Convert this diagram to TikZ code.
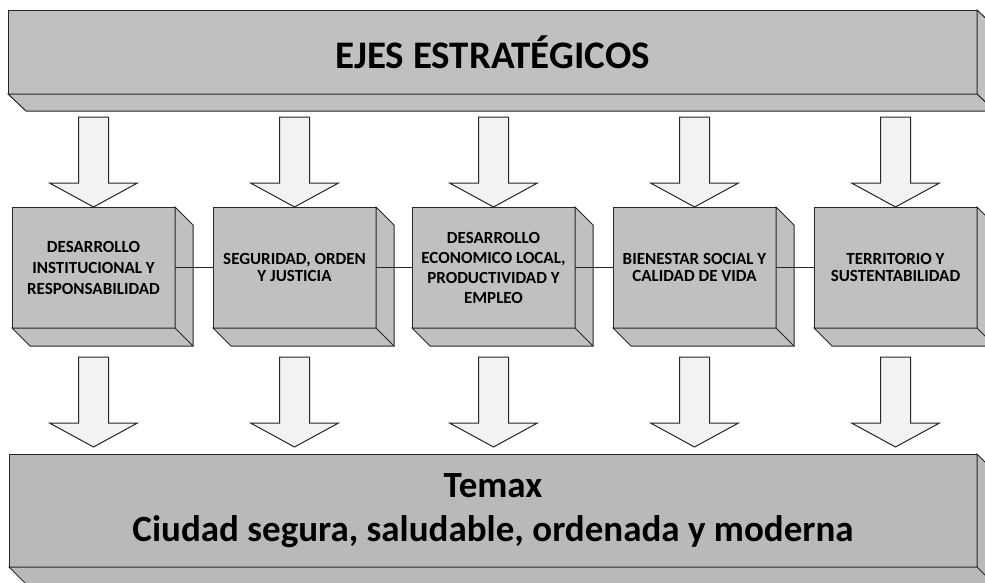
\documentclass[tikz,border=0pt]{standalone}
\usepackage{fontspec}
\setmainfont{Carlito}
\usetikzlibrary{calc}
\definecolor{boxgray}{HTML}{C0C0C0}
\definecolor{botgray}{HTML}{B9B9B9}
\definecolor{arrfill}{HTML}{F2F2F2}
\definecolor{linecol}{HTML}{262626}
\newcommand\depthbox[4]{%
  \filldraw[depthface, fill=#4] (#1.north east) -- ([shift={(#2,#3)}]#1.north east) -- ([shift={(#2,#3)}]#1.south east) -- ([shift={(#2,#3)}]#1.south west) -- (#1.south west) -- (#1.south east) -- cycle;
  \draw[depthface] (#1.south east) -- ([shift={(#2,#3)}]#1.south east);}
\newcommand\blockarr[1]{%
  \filldraw[blockarrow] (#1) -- ++(-44,-24) -- ++(29,0) -- ++(0,-66) -- ++(30,0) -- ++(0,66) -- ++(29,0) -- cycle;}
\begin{document}
\begin{tikzpicture}[x=1pt,y=-1pt,
  face/.style={draw=linecol, line width=1pt, fill=boxgray, inner sep=0pt, outer sep=0pt, align=center, anchor=north west, text=black},
  depthface/.style={draw=linecol, line width=1pt, line join=miter},
  blockarrow/.style={draw=linecol, line width=1pt, fill=arrfill, line join=miter},
  edge/.style={draw=linecol, line width=1pt},
  midbox/.style={face, minimum width=163pt, minimum height=121pt},
  midfont/.style={font=\fontsize{17}{#1}\selectfont\bfseries}]
\useasboundingbox (0,0) rectangle (985,582);
\clip (0,0) rectangle (985,582);
\fill[white] (0,0) rectangle (985,582);
% top box
\node[face, minimum width=969pt, minimum height=84pt, font=\fontsize{39}{42}\selectfont\bfseries] (top) at (8,10) {EJES ESTRATÉGICOS};
\depthbox{top}{18}{17}{boxgray}
% middle boxes
\node[midbox, midfont=21] (b1) at (12,207) {DESARROLLO\\INSTITUCIONAL Y\\RESPONSABILIDAD};
\node[midbox, midfont=17] (b2) at (213,207) {SEGURIDAD, ORDEN\\Y JUSTICIA};
\node[midbox, midfont=20] (b3) at (412,207) {DESARROLLO\\ECONOMICO LOCAL,\\PRODUCTIVIDAD Y\\EMPLEO};
\node[midbox, midfont=17] (b4) at (613,207) {BIENESTAR SOCIAL Y\\CALIDAD DE VIDA};
\node[midbox, midfont=17] (b5) at (814,207) {TERRITORIO Y\\SUSTENTABILIDAD};
\foreach \b in {b1,b2,b3,b4,b5}{\depthbox{\b}{18}{18}{boxgray}}
% connectors
\draw[edge] (b1.east) -- (b2.west);
\draw[edge] (b2.east) -- (b3.west);
\draw[edge] (b3.east) -- (b4.west);
\draw[edge] (b4.east) -- (b5.west);
% bottom box
\node[face, fill=botgray, minimum width=968pt, minimum height=113pt, font=\fontsize{37}{44}\selectfont\bfseries] (bot) at (9,454) {Temax\\Ciudad segura, saludable, ordenada y moderna};
\depthbox{bot}{18}{18}{botgray}
% arrows
\foreach \b in {b1,b2,b3,b4,b5}{
  \blockarr{\b.north}
  \coordinate (\b-in) at ($(\b.south |- bot.north)+(0,-7)$);
  \blockarr{\b-in}
}
\end{tikzpicture}
\end{document}
